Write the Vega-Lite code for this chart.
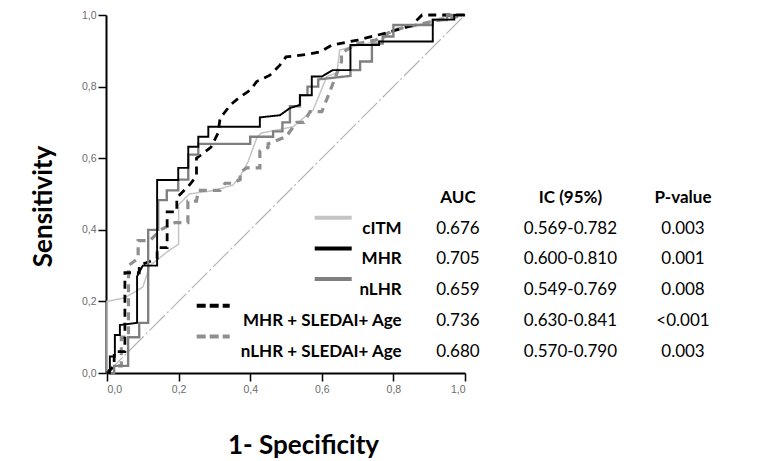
{
  "$schema": "https://vega.github.io/schema/vega-lite/v6.json",
  "width": 358,
  "height": 358,
  "autosize": {"type": "none"},
  "padding": {"left": 107, "top": 15, "right": 296, "bottom": 88},
  "background": "white",
  "config": {"view": {"stroke": null}, "font": "Lato"},
  "datasets": {
    "diag": [{"x": 0, "y": 0}, {"x": 1, "y": 1}],
    "roc": [
      {"s": "cITM", "x": 0, "y": 0}, {"s": "cITM", "x": 0, "y": 0.2}, {"s": "cITM", "x": 0.05, "y": 0.21}, {"s": "cITM", "x": 0.1, "y": 0.24}, {"s": "cITM", "x": 0.12, "y": 0.3}, {"s": "cITM", "x": 0.17, "y": 0.34}, {"s": "cITM", "x": 0.2, "y": 0.36}, {"s": "cITM", "x": 0.2, "y": 0.47}, {"s": "cITM", "x": 0.23, "y": 0.5}, {"s": "cITM", "x": 0.3, "y": 0.51}, {"s": "cITM", "x": 0.352, "y": 0.525}, {"s": "cITM", "x": 0.372, "y": 0.55}, {"s": "cITM", "x": 0.394, "y": 0.59}, {"s": "cITM", "x": 0.418, "y": 0.656}, {"s": "cITM", "x": 0.43, "y": 0.67}, {"s": "cITM", "x": 0.52, "y": 0.688}, {"s": "cITM", "x": 0.576, "y": 0.735}, {"s": "cITM", "x": 0.614, "y": 0.828}, {"s": "cITM", "x": 0.642, "y": 0.838}, {"s": "cITM", "x": 0.65, "y": 0.902}, {"s": "cITM", "x": 0.68, "y": 0.91}, {"s": "cITM", "x": 0.77, "y": 0.93}, {"s": "cITM", "x": 0.8, "y": 0.958}, {"s": "cITM", "x": 0.9, "y": 0.98}, {"s": "cITM", "x": 0.94, "y": 0.995}, {"s": "cITM", "x": 1, "y": 1},

      {"s": "nLHR + SLEDAI+ Age", "x": 0, "y": 0}, {"s": "nLHR + SLEDAI+ Age", "x": 0.02, "y": 0.02}, {"s": "nLHR + SLEDAI+ Age", "x": 0.04, "y": 0.02}, {"s": "nLHR + SLEDAI+ Age", "x": 0.04, "y": 0.1}, {"s": "nLHR + SLEDAI+ Age", "x": 0.06, "y": 0.1}, {"s": "nLHR + SLEDAI+ Age", "x": 0.06, "y": 0.3}, {"s": "nLHR + SLEDAI+ Age", "x": 0.087, "y": 0.32}, {"s": "nLHR + SLEDAI+ Age", "x": 0.087, "y": 0.37}, {"s": "nLHR + SLEDAI+ Age", "x": 0.12, "y": 0.37}, {"s": "nLHR + SLEDAI+ Age", "x": 0.15, "y": 0.4}, {"s": "nLHR + SLEDAI+ Age", "x": 0.19, "y": 0.42}, {"s": "nLHR + SLEDAI+ Age", "x": 0.226, "y": 0.42}, {"s": "nLHR + SLEDAI+ Age", "x": 0.226, "y": 0.48}, {"s": "nLHR + SLEDAI+ Age", "x": 0.25, "y": 0.48}, {"s": "nLHR + SLEDAI+ Age", "x": 0.255, "y": 0.51}, {"s": "nLHR + SLEDAI+ Age", "x": 0.316, "y": 0.51}, {"s": "nLHR + SLEDAI+ Age", "x": 0.33, "y": 0.53}, {"s": "nLHR + SLEDAI+ Age", "x": 0.35, "y": 0.53}, {"s": "nLHR + SLEDAI+ Age", "x": 0.372, "y": 0.54}, {"s": "nLHR + SLEDAI+ Age", "x": 0.372, "y": 0.56}, {"s": "nLHR + SLEDAI+ Age", "x": 0.39, "y": 0.573}, {"s": "nLHR + SLEDAI+ Age", "x": 0.427, "y": 0.573}, {"s": "nLHR + SLEDAI+ Age", "x": 0.427, "y": 0.62}, {"s": "nLHR + SLEDAI+ Age", "x": 0.45, "y": 0.63}, {"s": "nLHR + SLEDAI+ Age", "x": 0.45, "y": 0.64}, {"s": "nLHR + SLEDAI+ Age", "x": 0.5, "y": 0.66}, {"s": "nLHR + SLEDAI+ Age", "x": 0.53, "y": 0.7}, {"s": "nLHR + SLEDAI+ Age", "x": 0.55, "y": 0.7}, {"s": "nLHR + SLEDAI+ Age", "x": 0.567, "y": 0.73}, {"s": "nLHR + SLEDAI+ Age", "x": 0.6, "y": 0.73}, {"s": "nLHR + SLEDAI+ Age", "x": 0.62, "y": 0.78}, {"s": "nLHR + SLEDAI+ Age", "x": 0.655, "y": 0.87}, {"s": "nLHR + SLEDAI+ Age", "x": 0.655, "y": 0.894}, {"s": "nLHR + SLEDAI+ Age", "x": 0.7, "y": 0.92}, {"s": "nLHR + SLEDAI+ Age", "x": 0.75, "y": 0.93}, {"s": "nLHR + SLEDAI+ Age", "x": 0.8, "y": 0.958}, {"s": "nLHR + SLEDAI+ Age", "x": 0.9, "y": 0.98}, {"s": "nLHR + SLEDAI+ Age", "x": 1, "y": 1},

      {"s": "MHR + SLEDAI+ Age", "x": 0, "y": 0}, {"s": "MHR + SLEDAI+ Age", "x": 0.02, "y": 0.02}, {"s": "MHR + SLEDAI+ Age", "x": 0.02, "y": 0.06}, {"s": "MHR + SLEDAI+ Age", "x": 0.05, "y": 0.06}, {"s": "MHR + SLEDAI+ Age", "x": 0.05, "y": 0.28}, {"s": "MHR + SLEDAI+ Age", "x": 0.09, "y": 0.28}, {"s": "MHR + SLEDAI+ Age", "x": 0.09, "y": 0.3}, {"s": "MHR + SLEDAI+ Age", "x": 0.14, "y": 0.32}, {"s": "MHR + SLEDAI+ Age", "x": 0.14, "y": 0.35}, {"s": "MHR + SLEDAI+ Age", "x": 0.168, "y": 0.35}, {"s": "MHR + SLEDAI+ Age", "x": 0.168, "y": 0.45}, {"s": "MHR + SLEDAI+ Age", "x": 0.195, "y": 0.45}, {"s": "MHR + SLEDAI+ Age", "x": 0.195, "y": 0.49}, {"s": "MHR + SLEDAI+ Age", "x": 0.226, "y": 0.52}, {"s": "MHR + SLEDAI+ Age", "x": 0.25, "y": 0.55}, {"s": "MHR + SLEDAI+ Age", "x": 0.25, "y": 0.6}, {"s": "MHR + SLEDAI+ Age", "x": 0.29, "y": 0.63}, {"s": "MHR + SLEDAI+ Age", "x": 0.31, "y": 0.67}, {"s": "MHR + SLEDAI+ Age", "x": 0.316, "y": 0.712}, {"s": "MHR + SLEDAI+ Age", "x": 0.346, "y": 0.75}, {"s": "MHR + SLEDAI+ Age", "x": 0.37, "y": 0.77}, {"s": "MHR + SLEDAI+ Age", "x": 0.4, "y": 0.79}, {"s": "MHR + SLEDAI+ Age", "x": 0.418, "y": 0.814}, {"s": "MHR + SLEDAI+ Age", "x": 0.455, "y": 0.832}, {"s": "MHR + SLEDAI+ Age", "x": 0.483, "y": 0.86}, {"s": "MHR + SLEDAI+ Age", "x": 0.5, "y": 0.883}, {"s": "MHR + SLEDAI+ Age", "x": 0.558, "y": 0.89}, {"s": "MHR + SLEDAI+ Age", "x": 0.595, "y": 0.897}, {"s": "MHR + SLEDAI+ Age", "x": 0.628, "y": 0.916}, {"s": "MHR + SLEDAI+ Age", "x": 0.7, "y": 0.93}, {"s": "MHR + SLEDAI+ Age", "x": 0.78, "y": 0.95}, {"s": "MHR + SLEDAI+ Age", "x": 0.85, "y": 0.97}, {"s": "MHR + SLEDAI+ Age", "x": 0.88, "y": 1}, {"s": "MHR + SLEDAI+ Age", "x": 1, "y": 1},

      {"s": "nLHR", "x": 0, "y": 0}, {"s": "nLHR", "x": 0.02, "y": 0}, {"s": "nLHR", "x": 0.02, "y": 0.02}, {"s": "nLHR", "x": 0.059, "y": 0.02}, {"s": "nLHR", "x": 0.059, "y": 0.1}, {"s": "nLHR", "x": 0.09, "y": 0.1}, {"s": "nLHR", "x": 0.09, "y": 0.14}, {"s": "nLHR", "x": 0.115, "y": 0.14}, {"s": "nLHR", "x": 0.115, "y": 0.4}, {"s": "nLHR", "x": 0.143, "y": 0.4}, {"s": "nLHR", "x": 0.143, "y": 0.483}, {"s": "nLHR", "x": 0.167, "y": 0.483}, {"s": "nLHR", "x": 0.167, "y": 0.51}, {"s": "nLHR", "x": 0.199, "y": 0.51}, {"s": "nLHR", "x": 0.199, "y": 0.54}, {"s": "nLHR", "x": 0.227, "y": 0.54}, {"s": "nLHR", "x": 0.227, "y": 0.61}, {"s": "nLHR", "x": 0.255, "y": 0.61}, {"s": "nLHR", "x": 0.255, "y": 0.64}, {"s": "nLHR", "x": 0.4, "y": 0.64}, {"s": "nLHR", "x": 0.4, "y": 0.66}, {"s": "nLHR", "x": 0.464, "y": 0.66}, {"s": "nLHR", "x": 0.464, "y": 0.675}, {"s": "nLHR", "x": 0.49, "y": 0.675}, {"s": "nLHR", "x": 0.49, "y": 0.7}, {"s": "nLHR", "x": 0.511, "y": 0.7}, {"s": "nLHR", "x": 0.511, "y": 0.745}, {"s": "nLHR", "x": 0.539, "y": 0.745}, {"s": "nLHR", "x": 0.539, "y": 0.776}, {"s": "nLHR", "x": 0.56, "y": 0.776}, {"s": "nLHR", "x": 0.56, "y": 0.8}, {"s": "nLHR", "x": 0.59, "y": 0.8}, {"s": "nLHR", "x": 0.59, "y": 0.82}, {"s": "nLHR", "x": 0.68, "y": 0.83}, {"s": "nLHR", "x": 0.68, "y": 0.846}, {"s": "nLHR", "x": 0.707, "y": 0.846}, {"s": "nLHR", "x": 0.707, "y": 0.87}, {"s": "nLHR", "x": 0.74, "y": 0.87}, {"s": "nLHR", "x": 0.74, "y": 0.92}, {"s": "nLHR", "x": 0.77, "y": 0.92}, {"s": "nLHR", "x": 0.77, "y": 0.94}, {"s": "nLHR", "x": 0.8, "y": 0.94}, {"s": "nLHR", "x": 0.8, "y": 0.972}, {"s": "nLHR", "x": 0.91, "y": 0.972}, {"s": "nLHR", "x": 0.91, "y": 0.986}, {"s": "nLHR", "x": 0.95, "y": 0.986}, {"s": "nLHR", "x": 0.95, "y": 1}, {"s": "nLHR", "x": 1, "y": 1},

      {"s": "MHR", "x": 0, "y": 0}, {"s": "MHR", "x": 0.008, "y": 0}, {"s": "MHR", "x": 0.008, "y": 0.046}, {"s": "MHR", "x": 0.022, "y": 0.046}, {"s": "MHR", "x": 0.022, "y": 0.106}, {"s": "MHR", "x": 0.036, "y": 0.106}, {"s": "MHR", "x": 0.036, "y": 0.134}, {"s": "MHR", "x": 0.084, "y": 0.14}, {"s": "MHR", "x": 0.084, "y": 0.27}, {"s": "MHR", "x": 0.1, "y": 0.3}, {"s": "MHR", "x": 0.14, "y": 0.3}, {"s": "MHR", "x": 0.14, "y": 0.539}, {"s": "MHR", "x": 0.199, "y": 0.539}, {"s": "MHR", "x": 0.199, "y": 0.573}, {"s": "MHR", "x": 0.227, "y": 0.573}, {"s": "MHR", "x": 0.227, "y": 0.632}, {"s": "MHR", "x": 0.255, "y": 0.632}, {"s": "MHR", "x": 0.255, "y": 0.66}, {"s": "MHR", "x": 0.283, "y": 0.66}, {"s": "MHR", "x": 0.283, "y": 0.688}, {"s": "MHR", "x": 0.427, "y": 0.688}, {"s": "MHR", "x": 0.427, "y": 0.714}, {"s": "MHR", "x": 0.483, "y": 0.72}, {"s": "MHR", "x": 0.511, "y": 0.74}, {"s": "MHR", "x": 0.539, "y": 0.749}, {"s": "MHR", "x": 0.539, "y": 0.776}, {"s": "MHR", "x": 0.572, "y": 0.776}, {"s": "MHR", "x": 0.572, "y": 0.828}, {"s": "MHR", "x": 0.6, "y": 0.828}, {"s": "MHR", "x": 0.63, "y": 0.846}, {"s": "MHR", "x": 0.68, "y": 0.846}, {"s": "MHR", "x": 0.68, "y": 0.916}, {"s": "MHR", "x": 0.76, "y": 0.916}, {"s": "MHR", "x": 0.76, "y": 0.926}, {"s": "MHR", "x": 0.91, "y": 0.926}, {"s": "MHR", "x": 0.91, "y": 0.987}, {"s": "MHR", "x": 0.97, "y": 0.987}, {"s": "MHR", "x": 0.97, "y": 1}, {"s": "MHR", "x": 1, "y": 1}
    ],
    "table": [
      {"series": "cITM", "AUC": "0.676", "IC": "0.569-0.782", "P": "0.003"},
      {"series": "MHR", "AUC": "0.705", "IC": "0.600-0.810", "P": "0.001"},
      {"series": "nLHR", "AUC": "0.659", "IC": "0.549-0.769", "P": "0.008"},
      {"series": "MHR + SLEDAI+ Age", "AUC": "0.736", "IC": "0.630-0.841", "P": "<0.001"},
      {"series": "nLHR + SLEDAI+ Age", "AUC": "0.680", "IC": "0.570-0.790", "P": "0.003"}
    ],
    "hdr": [
      {"col": "AUC", "label": "AUC"},
      {"col": "IC", "label": "IC (95%)"},
      {"col": "P", "label": "P-value"}
    ]
  },
  "layer": [
    {
      "layer": [
        {
          "data": {"name": "diag"},
          "mark": {"type": "line", "stroke": "#b3b3b3", "strokeWidth": 1.2, "strokeDash": [22, 3, 2, 3]},
          "encoding": {
            "x": {"field": "x", "type": "quantitative"},
            "y": {"field": "y", "type": "quantitative"}
          }
        },
        {
          "data": {"name": "roc"},
          "mark": {"type": "line", "interpolate": "linear"},
          "encoding": {
            "x": {"field": "x", "type": "quantitative"},
            "y": {"field": "y", "type": "quantitative"},
            "order": [{"field": "x", "type": "quantitative"}, {"field": "y", "type": "quantitative"}],
            "color": {"field": "s", "type": "nominal", "legend": null,
              "scale": {"domain": ["cITM", "MHR", "nLHR", "MHR + SLEDAI+ Age", "nLHR + SLEDAI+ Age"], "range": ["#c4c4c4", "#000000", "#7f7f7f", "#000000", "#8f8f8f"]}},
            "strokeDash": {"field": "s", "type": "nominal", "legend": null,
              "scale": {"domain": ["cITM", "MHR", "nLHR", "MHR + SLEDAI+ Age", "nLHR + SLEDAI+ Age"], "range": [[1, 0], [1, 0], [1, 0], [8, 6], [8, 6]]}},
            "strokeWidth": {"field": "s", "type": "nominal", "legend": null,
              "scale": {"domain": ["cITM", "MHR", "nLHR", "MHR + SLEDAI+ Age", "nLHR + SLEDAI+ Age"], "range": [1.5, 3.2, 3.2, 3.2, 3.2]}}
          }
        }
      ],
      "encoding": {
        "x": {"field": "x", "type": "quantitative",
          "scale": {"domain": [0, 1], "nice": false},
          "axis": {
            "values": [0, 0.2, 0.4, 0.6, 0.8, 1],
            "labelExpr": "replace(format(datum.value, '.1f'), '.', ',')",
            "grid": false, "domainColor": "#000", "domainWidth": 2,
            "tickColor": "#000", "tickSize": 8, "tickWidth": 1.5,
            "labelFont": "Liberation Sans", "labelFontSize": 10.5, "labelColor": "#6b6b6b", "labelPadding": 3,
            "title": "1- Specificity", "titleFont": "Lato", "titleFontSize": 26, "titleFontWeight": "bold", "titleColor": "#000",
            "titleX": 196, "titleY": 80, "titleAlign": "center", "titleBaseline": "alphabetic"
          }},
        "y": {"field": "y", "type": "quantitative",
          "scale": {"domain": [0, 1], "nice": false},
          "axis": {
            "values": [0, 0.2, 0.4, 0.6, 0.8, 1],
            "labelExpr": "replace(format(datum.value, '.1f'), '.', ',')",
            "grid": false, "domainColor": "#000", "domainWidth": 2, "offset": 1,
            "tickColor": "#000", "tickSize": 8, "tickWidth": 1.5,
            "labelFont": "Liberation Sans", "labelFontSize": 10.5, "labelColor": "#6b6b6b", "labelPadding": 2,
            "title": "Sensitivity", "titleFont": "Lato", "titleFontSize": 26, "titleFontWeight": "bold", "titleColor": "#000",
            "titleAngle": -90, "titleX": -55, "titleY": 191, "titleAlign": "center", "titleBaseline": "alphabetic"
          }}
      }
    },
    {
      "layer": [
        {
          "data": {"name": "table"},
          "mark": {"type": "text", "align": "right", "baseline": "middle", "font": "Lato", "fontSize": 17, "fontWeight": "bold", "fill": "#000"},
          "encoding": {
            "x": {"datum": "name", "type": "nominal"},
            "y": {"field": "series", "type": "nominal"},
            "text": {"field": "series"}
          }
        },
        {
          "data": {"name": "table"},
          "transform": [{"fold": ["AUC", "IC", "P"], "as": ["col", "val"]}],
          "mark": {"type": "text", "align": "center", "baseline": "middle", "font": "Lato", "fontSize": 17, "fill": "#000"},
          "encoding": {
            "x": {"field": "col", "type": "nominal"},
            "y": {"field": "series", "type": "nominal"},
            "text": {"field": "val"}
          }
        },
        {
          "data": {"name": "hdr"},
          "mark": {"type": "text", "align": "center", "baseline": "middle", "font": "Lato", "fontSize": 17, "fontWeight": "bold", "fill": "#000"},
          "encoding": {
            "x": {"field": "col", "type": "nominal"},
            "y": {"datum": "header", "type": "nominal"},
            "text": {"field": "label"}
          }
        },
        {
          "data": {"name": "table"},
          "transform": [{"filter": "indexof(datum.series, 'SLEDAI') < 0"}],
          "mark": {"type": "rule", "strokeWidth": 4, "xOffset": -87, "x2Offset": -50, "yOffset": -11},
          "encoding": {
            "x": {"datum": "name", "type": "nominal"},
            "x2": {"datum": "name"},
            "y": {"field": "series", "type": "nominal"},
            "color": {"field": "series", "type": "nominal", "legend": null}
          }
        },
        {
          "data": {"name": "table"},
          "transform": [{"filter": "indexof(datum.series, 'SLEDAI') >= 0"}],
          "mark": {"type": "rule", "strokeWidth": 4, "strokeDash": [9, 4], "xOffset": -205, "x2Offset": -172, "yOffset": -15},
          "encoding": {
            "x": {"datum": "name", "type": "nominal"},
            "x2": {"datum": "name"},
            "y": {"field": "series", "type": "nominal"},
            "color": {"field": "series", "type": "nominal", "legend": null}
          }
        }
      ],
      "encoding": {
        "x": {"type": "nominal",
          "scale": {"type": "point", "domain": ["name", "AUC", "_a", "IC", "_b", "P"], "range": [294.7, 576], "padding": 0},
          "axis": null},
        "y": {"type": "nominal",
          "scale": {"type": "point", "domain": ["header", "cITM", "MHR", "nLHR", "MHR + SLEDAI+ Age", "nLHR + SLEDAI+ Age"], "range": [183, 336.5], "padding": 0},
          "axis": null}
      }
    }
  ],
  "resolve": {"scale": {"x": "independent", "y": "independent", "color": "shared"}}
}
